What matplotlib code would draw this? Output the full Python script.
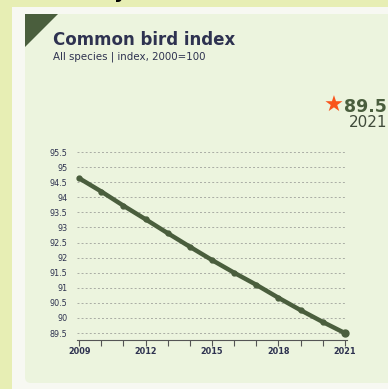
import matplotlib.pyplot as plt
from matplotlib.patches import FancyBboxPatch, Polygon, Rectangle

# Common bird index, all species (2000 = 100)
years = [2009, 2010, 2011, 2012, 2013, 2014, 2015, 2016, 2017, 2018, 2019, 2020, 2021]
index_values = [94.63, 94.19, 93.72, 93.27, 92.81, 92.36, 91.92, 91.50, 91.10, 90.67, 90.26, 89.87, 89.5]
y_ticks = [89.5, 90, 90.5, 91, 91.5, 92, 92.5, 93, 93.5, 94, 94.5, 95, 95.5]
y_tick_labels = ['89.5', '90', '90.5', '91', '91.5', '92', '92.5', '93', '93.5', '94', '94.5', '95', '95.5']
x_tick_years = [2009, 2012, 2015, 2018, 2021]
latest_value = index_values[-1]
latest_year = years[-1]

W, H = 388, 389
fig = plt.figure(figsize=(W / 100, H / 100), dpi=100)
fig.patch.set_facecolor('#e7eeb4')


def fx(px):
    return px / W


def fy(py):
    return 1 - py / H


# white card and light green panel
fig.patches.append(Rectangle((fx(12), 0), 1, fy(7), transform=fig.transFigure,
                             facecolor='#f7f8f2', edgecolor='none', zorder=0))
fig.patches.append(FancyBboxPatch((fx(25), fy(383)), fx(400 - 25), fy(14) - fy(383),
                                  boxstyle='round,pad=0,rounding_size=0.015',
                                  transform=fig.transFigure, facecolor='#ecf4de',
                                  edgecolor='none', zorder=1))
fig.patches.append(Polygon([(fx(25), fy(14)), (fx(58), fy(14)), (fx(25), fy(47))],
                           closed=True, transform=fig.transFigure,
                           facecolor='#4a5e3d', edgecolor='none', zorder=2))

# tail of the heading above the card
fig.text(fx(114), fy(-2), 'y', fontsize=14, fontweight='bold', color='black',
         ha='left', va='baseline', zorder=6)

fig.text(fx(53), fy(45), 'Common bird index', fontsize=12, fontweight='bold',
         color='#2e3250', ha='left', va='baseline', zorder=6)
fig.text(fx(53), fy(60), 'All species | index, 2000=100', fontsize=7.4,
         color='#2e3250', ha='left', va='baseline', zorder=6)

# latest value callout
fig.text(fx(387), fy(112), f'{latest_value}', fontsize=12.5, fontweight='bold',
         color='#4a5e3d', ha='right', va='baseline', zorder=6)
fig.text(fx(387), fy(127), f'{latest_year}', fontsize=11, color='#3f4a3a',
         ha='right', va='baseline', zorder=6)
fig.text(fx(334), fy(106), '\u2605', fontsize=16, color='#f9541b',
         ha='center', va='center', zorder=6)

ax = fig.add_axes([fx(77), fy(340), fx(347) - fx(77), fy(149) - fy(340)])
ax.set_zorder(5)
ax.set_facecolor('none')
ax.plot(years, index_values, color='#4a5e3d', lw=3.2, marker='o', ms=3.5,
        solid_capstyle='round', zorder=3, clip_on=False)
ax.plot(years[-1], index_values[-1], 'o', color='#4a5e3d', ms=5, zorder=4, clip_on=False)

ax.set_xlim(2008.9, 2021.1)
ax.set_ylim(89.27, 95.6)
ax.set_yticks(y_ticks)
ax.set_yticklabels(y_tick_labels)
ax.set_xticks(years)
ax.set_xticklabels([str(y) if y in x_tick_years else '' for y in years])

for y in y_ticks:
    ax.axhline(y, color='#a9aca4', lw=0.7, ls=(0, (2, 2.2)), zorder=1)

for s in ['top', 'right', 'left']:
    ax.spines[s].set_visible(False)
ax.spines['bottom'].set_color('#555555')
ax.spines['bottom'].set_linewidth(0.8)

ax.tick_params(axis='y', length=0, pad=7, labelsize=5.8, labelcolor='#2e3250')
ax.tick_params(axis='x', length=4, width=0.8, color='#555555', pad=1,
               labelsize=5.9, labelcolor='#2e3250', direction='out')
for lbl in ax.get_xticklabels():
    lbl.set_fontweight('bold')

fig.savefig('out.png', dpi=100)
